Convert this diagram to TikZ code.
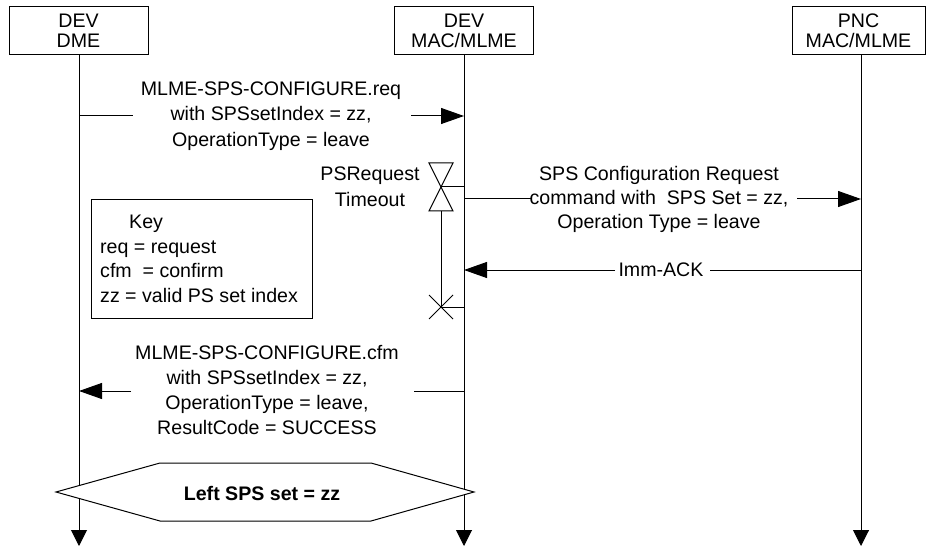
\documentclass[tikz,border=0pt]{standalone}
\usepackage{fontspec}
\setmainfont{Liberation Sans}
\usetikzlibrary{arrows.meta}
\tikzset{
 hdr/.style={draw, line width=1pt, minimum width=139pt, minimum height=48pt, inner sep=0pt, align=center, font=\fontsize{19.6}{20}\selectfont},
 msg/.style={line width=1pt},
 arr/.style={line width=1pt, -{Triangle[length=23pt,width=16pt]}},
 life/.style={line width=1pt, -{Triangle[length=16pt,width=16pt]}},
 lbl/.style={inner sep=0pt, align=center, font=\fontsize{19.6}{25.5}\selectfont},
}
\begin{document}
\begin{tikzpicture}[x=1pt,y=-1pt]
\useasboundingbox (0,0) rectangle (926,548);
% headers
\node[hdr] (dme) at (78.5,31) {DEV\\DME};
\node[hdr] (mac) at (464,31) {DEV\\MAC/MLME};
\node[hdr, minimum width=133pt] (pnc) at (858.5,31) {PNC\\MAC/MLME};
% lifelines
\coordinate (L1t) at (79,55);  \coordinate (L1b) at (79,546);
\coordinate (L2t) at (464,55); \coordinate (L2b) at (464,546);
\coordinate (L3t) at (861,55); \coordinate (L3b) at (861,546);
\draw[life] (L1t) -- (L1b);
\draw[life] (L2t) -- (L2b);
\draw[life] (L3t) -- (L3b);
% message 1
\coordinate (m1a) at (79,116); \coordinate (m1b) at (133,116);
\coordinate (m1c) at (411,116); \coordinate (m1d) at (464,116);
\draw[msg] (m1a) -- (m1b);
\draw[arr] (m1c) -- (m1d);
\node[lbl] (m1) at (271,116) {MLME-SPS-CONFIGURE.req\\with SPSsetIndex = zz,\\OperationType = leave};
% timer
\coordinate (tmr) at (441,187);
\coordinate (tmrb) at (441,211);
\coordinate (tmrx) at (441,307);
\draw[msg, line join=miter] (429,163) -- (453,163) -- (tmr) -- cycle;
\draw[msg, line join=miter] (tmr) -- (429,211) -- (453,211) -- cycle;
\draw[msg] (tmr) -- (464,187);
\draw[msg] (tmrb) -- (tmrx);
\draw[msg] (429,295) -- (453,319);
\draw[msg] (429,319) -- (453,295);
\draw[msg] (tmrx) -- (464,307);
\node[lbl, font=\fontsize{19.6}{26}\selectfont] (ps) at (370,187) {PSRequest\\Timeout};
% SPS configuration request
\coordinate (m2a) at (464,199); \coordinate (m2b) at (532,199);
\coordinate (m2c) at (797,199); \coordinate (m2d) at (861,199);
\draw[msg] (m2a) -- (m2b);
\draw[arr] (m2c) -- (m2d);
\node[lbl, font=\fontsize{19.6}{24}\selectfont] (m2) at (659,199) {SPS Configuration Request\\command with\ \ SPS Set = zz,\\Operation Type = leave};
% Imm-ACK
\coordinate (m3a) at (861,270); \coordinate (m3b) at (710,270);
\coordinate (m3c) at (615,270); \coordinate (m3d) at (464,270);
\draw[msg] (m3a) -- (m3b);
\draw[arr] (m3c) -- (m3d);
\node[lbl] (m3) at (661,270) {Imm-ACK};
% key
\node[draw, line width=1pt, minimum width=221pt, minimum height=118pt, inner sep=0pt] (key) at (201.5,259) {};
\node[lbl, align=left, anchor=west, font=\fontsize{19.6}{24.7}\selectfont] (keytext) at (100,259) {\hspace*{29pt}Key\\req = request\\cfm\ \ = confirm\\zz = valid PS set index};
% cfm message
\coordinate (m4a) at (464,391); \coordinate (m4b) at (414,391);
\coordinate (m4c) at (131,391); \coordinate (m4d) at (79,391);
\draw[msg] (m4a) -- (m4b);
\draw[arr] (m4c) -- (m4d);
\node[lbl, font=\fontsize{19.6}{25}\selectfont] (m4) at (267,390.5) {MLME-SPS-CONFIGURE.cfm\\with SPSsetIndex = zz,\\OperationType = leave,\\ResultCode = SUCCESS};
% hexagon
\draw[msg, fill=white] (56,492) -- (160,463) -- (371,463) -- (474,492) -- (371,521) -- (160,521) -- cycle;
\node[lbl, font=\bfseries\fontsize{19.6}{25}\selectfont] (left) at (262,493) {Left SPS set = zz};
\end{tikzpicture}
\end{document}
